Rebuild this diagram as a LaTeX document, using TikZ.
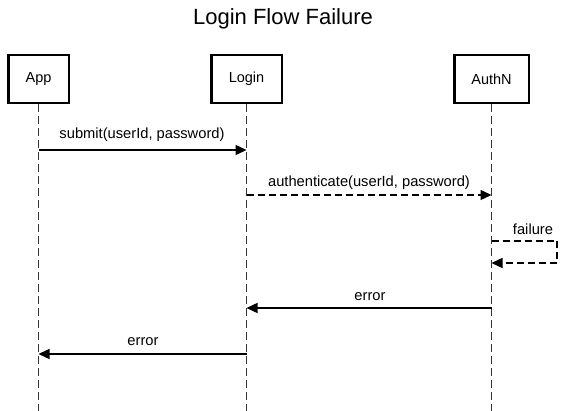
\documentclass[tikz,border=0pt]{standalone}
\usepackage{fontspec}
\setmainfont{Liberation Sans}
\usetikzlibrary{arrows.meta}
\begin{document}
\begin{tikzpicture}[x=1pt,y=-1pt,
  actor/.style={draw=black,line width=2.5pt,fill=white,minimum height=48pt,inner sep=0pt,font=\fontsize{14.5}{16}\selectfont},
  lifeline/.style={draw=black!80,line width=1.5pt,dash pattern=on 8pt off 4pt},
  msg/.style={draw=black,line width=1.3pt,-{Triangle[length=11pt,width=10pt]}},
  dmsg/.style={msg,dash pattern=on 7pt off 4pt},
  lbl/.style={font=\fontsize{14.7}{16}\selectfont,inner sep=0pt}]
\useasboundingbox (0,0) rectangle (565,411);
\node[font=\fontsize{22}{26}\selectfont] (title) at (283,19) {Login Flow Failure};
\node[actor,minimum width=60.5pt] (app) at (38.5,79) {App};
\node[actor,minimum width=70.5pt] (login) at (246.5,79) {Login};
\node[actor,minimum width=74.5pt] (authn) at (491.5,79) {AuthN};
\coordinate (append) at (38.5,411);
\coordinate (loginend) at (246.5,411);
\coordinate (authnend) at (491.5,411);
\draw[lifeline] (app.south) -- (append);
\draw[lifeline] (login.south) -- (loginend);
\draw[lifeline] (authn.south) -- (authnend);
% message anchors
\coordinate (a1) at (38.5,150); \coordinate (l1) at (246.5,150);
\coordinate (l2) at (246.5,195); \coordinate (n2) at (491.5,195);
\coordinate (n3) at (491.5,241); \coordinate (r3) at (557,241);
\coordinate (r4) at (557,263); \coordinate (n4) at (491.5,263);
\coordinate (n5) at (491.5,308); \coordinate (l5) at (246.5,308);
\coordinate (l6) at (246.5,354); \coordinate (a6) at (38.5,354);
\draw[msg] (a1) -- (l1);
\node[lbl] (m1) at (142,135) {submit(userId, password)};
\draw[dmsg] (l2) -- (n2);
\node[lbl] (m2) at (369,183) {authenticate(userId, password)};
\draw[dmsg] (n3) -- (r3) -- (r4) -- (n4);
\node[lbl] (m3) at (533,229) {failure};
\draw[msg] (n5) -- (l5);
\node[lbl] (m4) at (370,297) {error};
\draw[msg] (l6) -- (a6);
\node[lbl] (m5) at (143,342) {error};
\end{tikzpicture}
\end{document}
